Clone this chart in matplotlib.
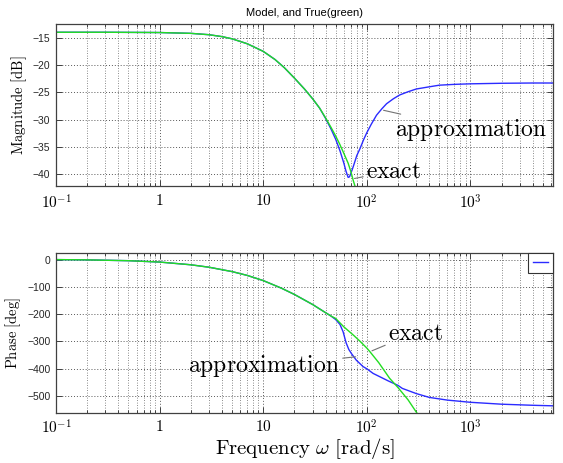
from __future__ import annotations

import matplotlib

matplotlib.use("Agg")
import matplotlib.pyplot as plt
from matplotlib.ticker import LogLocator, NullFormatter


OUT_PATH = "out.png"
FREQ_LIMITS = (0.1, 6283.0)
MAG_LIMITS = (-42.2, -12.5)
PHASE_LIMITS = (-565.0, 25.0)
BLUE = "#2b2bff"
GREEN = "#22dd22"
SANS = "Liberation Sans"

# values
MAG_EXACT_FREQ = [0.1, 0.3, 1, 2, 3, 4, 5, 7, 10, 13, 16, 20, 25, 30, 35, 40, 45, 50, 55, 60, 66, 70, 74, 78]
MAG_EXACT_DB = [-14.0, -14.0, -14.05, -14.2, -14.45, -14.8, -15.2, -16.1, -17.5, -19.0, -20.5, -22.4, -24.4,
                -26.2, -27.9, -29.7, -31.4, -33.0, -34.6, -36.2, -38.0, -39.5, -41.2, -42.6]

MAG_APPROX_FREQ = [0.1, 0.3, 1, 2, 3, 4, 5, 7, 10, 13, 16, 20, 25, 30, 35, 40, 45, 50, 55, 60, 63, 66, 68, 70,
                   74, 80, 86, 93, 100, 110, 124, 140, 155, 180, 207, 250, 300, 400, 500, 700, 1000, 2000,
                   4000, 6283]
MAG_APPROX_DB = [-14.0, -14.0, -14.05, -14.2, -14.45, -14.8, -15.2, -16.1, -17.5, -19.0, -20.5, -22.4, -24.4,
                 -26.2, -27.9, -29.8, -31.7, -33.6, -35.7, -38.0, -39.5, -40.6, -40.5, -39.9, -38.6, -36.6,
                 -35.3, -33.7, -32.4, -30.9, -29.2, -28.0, -27.1, -26.2, -25.5, -24.9, -24.4, -24.0, -23.7,
                 -23.55, -23.45, -23.35, -23.3, -23.3]

PHASE_EXACT_FREQ = [0.1, 0.2, 0.5, 1, 2, 3, 5, 7, 10, 15, 20, 30, 40, 45, 50, 60, 74, 86, 100, 107, 130, 166,
                    200, 250, 300, 320]
PHASE_EXACT_DEG = [0, -1, -4, -9, -19, -28, -44, -58, -77, -105, -128, -165, -195, -207, -216, -247, -277,
                   -300, -325, -338, -378, -436, -470, -515, -560, -575]

PHASE_APPROX_FREQ = [0.1, 0.2, 0.5, 1, 2, 3, 5, 7, 10, 15, 20, 30, 40, 45, 50, 55, 59, 63, 67, 71, 79, 92,
                     100, 115, 130, 160, 200, 220, 300, 400, 600, 1000, 2000, 4000, 6283]
PHASE_APPROX_DEG = [0, -1, -4, -9, -19, -28, -44, -58, -77, -105, -128, -165, -195, -207, -220, -238, -265,
                    -305, -330, -345, -369, -393, -401, -418, -428, -445, -462, -473, -492, -506, -516, -524,
                    -531, -535, -537]

MAG_TICKS = [-15, -20, -25, -30, -35, -40]
PHASE_TICKS = [0, -100, -200, -300, -400, -500]
X_TICKS = [0.1, 1, 10, 100, 1000]
X_TICK_LABELS = [r"$10^{-1}$", r"$1$", r"$10$", r"$10^{2}$", r"$10^{3}$"]


def main() -> None:
    plt.rcParams["mathtext.fontset"] = "cm"
    fig = plt.figure(figsize=(5.63, 4.63), dpi=100)
    ax_mag = fig.add_axes([0.0995, 0.598, 0.883, 0.350])
    ax_phase = fig.add_axes([0.0995, 0.107, 0.883, 0.347])

    ax_mag.plot(MAG_APPROX_FREQ, MAG_APPROX_DB, color=BLUE, linewidth=1.0)
    ax_mag.plot(MAG_EXACT_FREQ, MAG_EXACT_DB, color=GREEN, linewidth=1.0)
    approx_line, = ax_phase.plot(PHASE_APPROX_FREQ, PHASE_APPROX_DEG, color=BLUE, linewidth=1.0)
    ax_phase.plot(PHASE_EXACT_FREQ, PHASE_EXACT_DEG, color=GREEN, linewidth=1.0)

    _style_axes(ax_mag, MAG_LIMITS, MAG_TICKS)
    _style_axes(ax_phase, PHASE_LIMITS, PHASE_TICKS)
    ax_phase.tick_params(axis="x", pad=4)

    ax_mag.set_title("Model, and True(green)", fontsize=8, family=SANS, pad=6)
    ax_mag.set_ylabel(r"$\mathrm{Magnitude\ [dB]}$", fontsize=10.5, labelpad=3)
    ax_phase.set_ylabel(r"$\mathrm{Phase\ [deg]}$", fontsize=10.5, labelpad=3)
    ax_phase.set_xlabel(r"$\mathrm{Frequency}\ \omega\ [\mathrm{rad/s}]$", fontsize=15, labelpad=-1)

    _label(ax_mag, r"$\mathrm{approximation}$", (145, -28.3), (186, -31.9), "left")
    _label(ax_mag, r"$\mathrm{exact}$", (76, -40.8), (98, -39.4), "left")
    _label(ax_phase, r"$\mathrm{approximation}$", (78, -357), (55, -392), "right")
    _label(ax_phase, r"$\mathrm{exact}$", (112, -335), (160, -268), "left")

    legend = ax_phase.legend([approx_line], [""], loc="upper right", borderaxespad=0.0, handlelength=1.6,
                             handletextpad=0.0, fontsize=7, fancybox=False, framealpha=1.0, borderpad=0.5)
    legend.get_frame().set_edgecolor("0.2")
    legend.get_frame().set_linewidth(0.8)

    fig.savefig(OUT_PATH, dpi=100)
    plt.close(fig)


def _style_axes(ax, ylim, yticks) -> None:
    ax.set_xscale("log")
    ax.set_xlim(*FREQ_LIMITS)
    ax.set_ylim(*ylim)
    ax.set_xticks(X_TICKS, labels=X_TICK_LABELS)
    ax.xaxis.set_minor_locator(LogLocator(base=10, subs=(2, 3, 4, 5, 6, 7, 8, 9), numticks=30))
    ax.xaxis.set_minor_formatter(NullFormatter())
    ax.set_yticks(yticks)
    for label in ax.get_yticklabels():
        label.set_family(SANS)
        label.set_fontsize(7.5)
        label.set_color("0.15")
    for label in ax.get_xticklabels():
        label.set_fontsize(11)
    ax.tick_params(which="both", direction="in", top=True, right=True, color="0.25", width=0.7)
    ax.tick_params(which="major", length=4)
    ax.tick_params(which="minor", length=2.5)
    ax.tick_params(axis="x", pad=5)
    ax.tick_params(axis="y", pad=4)
    ax.grid(which="major", color="0.35", linestyle=(0, (1, 2)), linewidth=0.7)
    ax.grid(which="minor", axis="x", color="0.4", linestyle=(0, (1, 2)), linewidth=0.6)
    for spine in ax.spines.values():
        spine.set_color("0.25")
        spine.set_linewidth(0.9)


def _label(ax, text, xy, xytext, ha) -> None:
    ax.annotate(text, xy=xy, xytext=xytext, ha=ha, va="center", fontsize=17,
                arrowprops=dict(arrowstyle="-", color="0.45", linewidth=0.8, shrinkA=0, shrinkB=0))


if __name__ == "__main__":
    main()
